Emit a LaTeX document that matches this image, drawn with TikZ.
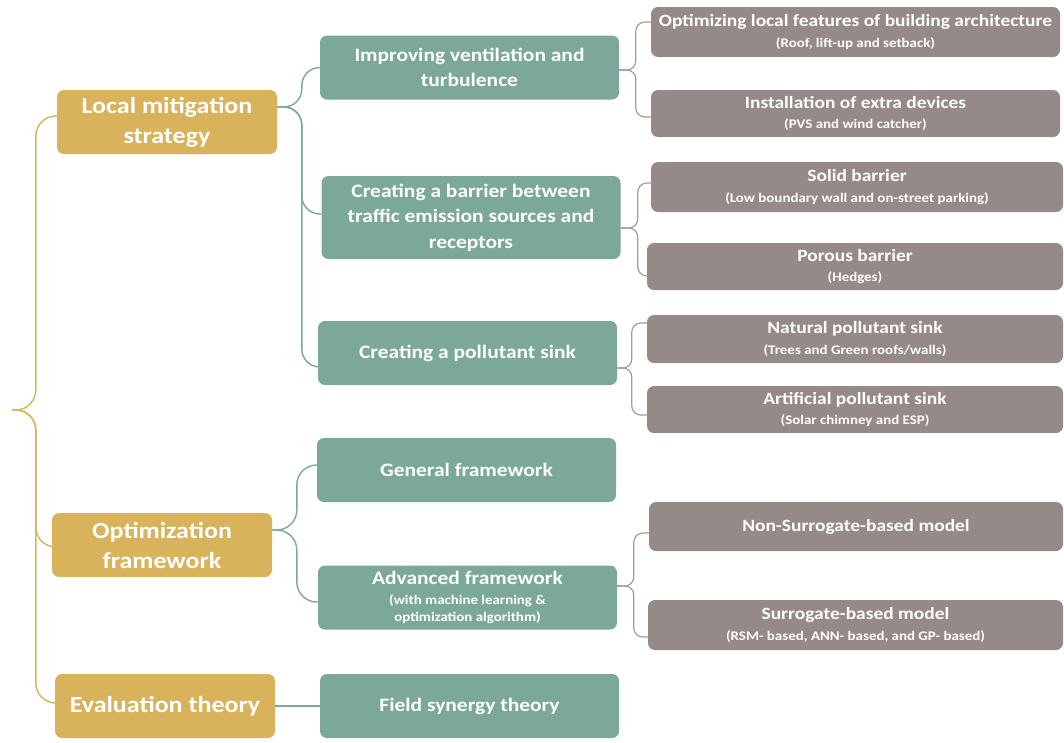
\documentclass[tikz,border=0pt]{standalone}
\usepackage{fontspec}
\setmainfont{Carlito}[FakeStretch=1.13]
\usepackage{tikz}

\definecolor{goldbox}{HTML}{D9B25C}
\definecolor{tealbox}{HTML}{7BA89A}
\definecolor{greybox}{HTML}{958A88}
\definecolor{greyline}{HTML}{A59B98}

\newcommand{\subtxt}[1]{{\fontsize{13.2}{15}\selectfont #1}}

\begin{document}
\begin{tikzpicture}[
    x=1pt, y=-1pt,
    lvlone/.style={rectangle, fill=goldbox, text=white, align=center, rounded corners=7pt, minimum width=220pt, minimum height=64pt, inner sep=0pt, font=\fontsize{23}{30}\selectfont\bfseries},
    lvltwo/.style={rectangle, fill=tealbox, text=white, align=center, rounded corners=7pt, minimum width=299pt, minimum height=64pt, inner sep=0pt, font=\fontsize{19}{24.5}\selectfont\bfseries},
    lvlthree/.style={rectangle, fill=greybox, text=white, align=center, rounded corners=7pt, minimum width=414pt, minimum height=48pt, inner sep=0pt, font=\fontsize{17.2}{20.5}\selectfont\bfseries},
    goldline/.style={draw=goldbox, line width=1.4pt, rounded corners=20pt},
    tealline/.style={draw=tealbox, line width=1.4pt, rounded corners=18pt},
    greyline/.style={draw=greyline, line width=1.2pt, rounded corners=9pt}
  ]

    \useasboundingbox (0,0) rectangle (1064,742);

    \node[lvlone] (local) at (167,122) {Local mitigation\\strategy};
    \node[lvlone] (opt) at (162,545) {Optimization\\framework};
    \node[lvlone] (eval) at (165,706) {Evaluation theory};

    \node[lvltwo] (improve) at (469.5,67.5) {Improving ventilation and\\turbulence};
    \node[lvltwo, minimum height=83pt, font=\fontsize{19}{25.5}\selectfont\bfseries] (barrier) at (471,217.5) {Creating a barrier between\\traffic emission sources and\\receptors};
    \node[lvltwo] (sink) at (467.5,353) {Creating a pollutant sink};
    \node[lvltwo] (general) at (466.5,470) {General framework};
    \node[lvltwo] (advanced) at (467.5,597.5) {Advanced framework\\[-4.5pt]\subtxt{(with machine learning \&}\\[-7.5pt]\subtxt{optimization algorithm)}};
    \node[lvltwo] (field) at (469.5,706) {Field synergy theory};

    \node[lvlthree, minimum width=409pt, minimum height=50pt] (feat) at (855.5,32) {Optimizing local features of building architecture\\\subtxt{(Roof, lift-up and setback)}};
    \node[lvlthree, minimum width=409pt, minimum height=47pt] (device) at (855.5,113.5) {Installation of extra devices\\\subtxt{(PVS and wind catcher)}};
    \node[lvlthree, minimum width=412pt, minimum height=50pt] (solid) at (857,187) {Solid barrier\\\subtxt{(Low boundary wall and on-street parking)}};
    \node[lvlthree, minimum width=416pt, minimum height=47pt] (porous) at (855,266.5) {Porous barrier\\\subtxt{(Hedges)}};
    \node[lvlthree, minimum width=416pt] (natural) at (855,339) {Natural pollutant sink\\\subtxt{(Trees and Green roofs/walls)}};
    \node[lvlthree, minimum width=416pt, minimum height=47pt] (artificial) at (855,409.5) {Artificial pollutant sink\\\subtxt{(Solar chimney and ESP)}};
    \node[lvlthree, minimum height=49pt] (nonsur) at (856,526.5) {Non-Surrogate-based model};
    \node[lvlthree, minimum width=415pt, minimum height=50pt] (sur) at (855.5,625) {Surrogate-based model\\\subtxt{(RSM- based, ANN- based, and GP- based)}};

    \coordinate (tip) at (12,410);
    \coordinate (localcusp) at ([yshift=15pt]local.east);
    \coordinate (optcusp) at ([yshift=15pt]opt.east);
    \coordinate (improvecusp) at ([yshift=-2.5pt]improve.east);
    \coordinate (barriercusp) at ([yshift=-10.5pt]barrier.east);
    \coordinate (sinkcusp) at ([yshift=-15pt]sink.east);
    \coordinate (advancedcusp) at ([yshift=11.5pt]advanced.east);

    \draw[goldline] (tip) -| ([xshift=-21pt,yshift=6pt]local.west) -- ([yshift=6pt]local.west);
    \draw[goldline] (tip) -| ([xshift=-16pt,yshift=-2pt]opt.west) -- ([yshift=-2pt]opt.west);
    \draw[goldline] (tip) -| ([xshift=-19pt,yshift=3pt]eval.west) -- ([yshift=3pt]eval.west);

    \draw[tealline] (localcusp) -| ([xshift=-18pt]improve.west) -- (improve.west);
    \draw[tealline] (localcusp) -| ([xshift=-19.5pt,yshift=3.5pt]barrier.west) -- ([yshift=3.5pt]barrier.west);
    \draw[tealline] (localcusp) -| ([xshift=-16pt,yshift=-14pt]sink.west) -- ([yshift=-14pt]sink.west);
    \draw[tealline, rounded corners=20pt] (optcusp) -| ([xshift=-20pt,yshift=5pt]general.west) -- ([yshift=5pt]general.west);
    \draw[tealline, rounded corners=20pt] (optcusp) -| ([xshift=-21pt,yshift=-4.5pt]advanced.west) -- ([yshift=-4.5pt]advanced.west);
    \draw[tealline] (eval.east) -- (field.west);

    \draw[greyline] (improvecusp) -| ([xshift=-15pt,yshift=10pt]feat.west) -- ([yshift=10pt]feat.west);
    \draw[greyline] (improvecusp) -| ([xshift=-15pt,yshift=-3.5pt]device.west) -- ([yshift=-3.5pt]device.west);
    \draw[greyline] (barriercusp) -| ([xshift=-13pt,yshift=4pt]solid.west) -- ([yshift=4pt]solid.west);
    \draw[greyline] (barriercusp) -| ([xshift=-9pt,yshift=-9.5pt]porous.west) -- ([yshift=-9.5pt]porous.west);
    \draw[greyline] (sinkcusp) -| ([xshift=-15pt,yshift=16pt]natural.west) -- ([yshift=16pt]natural.west);
    \draw[greyline] (sinkcusp) -| ([xshift=-15pt,yshift=-5.5pt]artificial.west) -- ([yshift=-5.5pt]artificial.west);
    \draw[greyline] (advancedcusp) -| ([xshift=-15pt,yshift=-6.5pt]nonsur.west) -- ([yshift=-6.5pt]nonsur.west);
    \draw[greyline] (advancedcusp) -| ([xshift=-14pt,yshift=-12pt]sur.west) -- ([yshift=-12pt]sur.west);
  \end{tikzpicture}
\end{document}
